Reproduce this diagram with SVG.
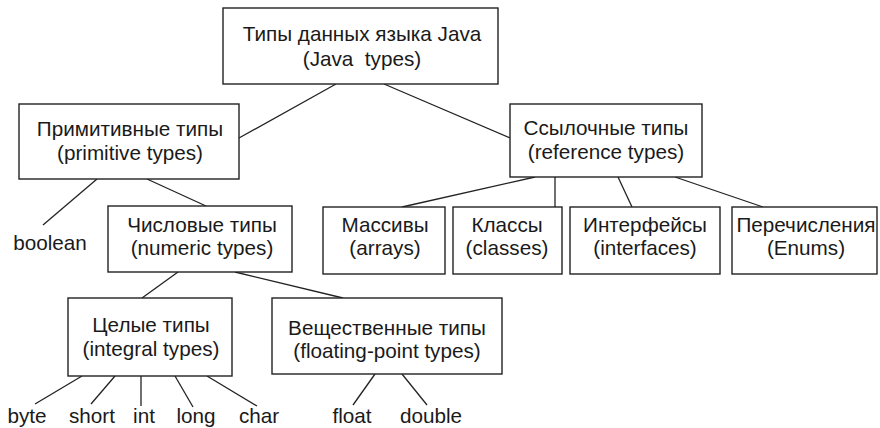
<svg xmlns="http://www.w3.org/2000/svg" width="880" height="428" viewBox="0 0 880 428">
<style>
.box{fill:#fff;stroke:#222;stroke-width:1.4}
.t{font-family:"Liberation Sans",Arial,sans-serif;font-size:20.7px;fill:#1a1a1a;text-anchor:middle;white-space:pre}
.c line{stroke:#222;stroke-width:1.3}
</style>
<rect width="880" height="428" fill="#fff"/>
<g class="c" id="connectors">
<line x1="336" y1="84" x2="239" y2="138"/>
<line x1="384" y1="84" x2="510" y2="138"/>
<line x1="97" y1="179" x2="43" y2="225"/>
<line x1="147" y1="179" x2="206" y2="206"/>
<line x1="178" y1="272" x2="142" y2="298"/>
<line x1="235" y1="272" x2="343" y2="298"/>
<line x1="82" y1="376" x2="35" y2="404"/>
<line x1="115" y1="376" x2="91" y2="404"/>
<line x1="141" y1="376" x2="141" y2="406"/>
<line x1="175" y1="376" x2="193" y2="407"/>
<line x1="207" y1="376" x2="257" y2="406"/>
<line x1="375" y1="374" x2="353" y2="405"/>
<line x1="402" y1="374" x2="427" y2="405"/>
<line x1="535" y1="177" x2="402" y2="207"/>
<line x1="555" y1="177" x2="555" y2="207"/>
<line x1="618" y1="177" x2="632" y2="207"/>
<line x1="675" y1="177" x2="763" y2="207"/>
</g>
<g id="java">
<rect class="box" x="223" y="8" width="275" height="76"/>
<text class="t" x="362" y="41">Типы данных языка Java</text>
<text class="t" x="362" y="66">(Java  types)</text>
</g>
<g id="primitive">
<rect class="box" x="19" y="104" width="220" height="75"/>
<text class="t" x="130" y="136">Примитивные типы</text>
<text class="t" x="130" y="160">(primitive types)</text>
</g>
<g id="reference">
<rect class="box" x="510" y="104" width="192" height="73"/>
<text class="t" x="606" y="135">Ссылочные типы</text>
<text class="t" x="606" y="159">(reference types)</text>
</g>
<g id="boolean">
<text class="t" x="50" y="250">boolean</text>
</g>
<g id="numeric">
<rect class="box" x="108" y="206" width="184" height="66"/>
<text class="t" x="202" y="232">Числовые типы</text>
<text class="t" x="202" y="255">(numeric types)</text>
</g>
<g id="arrays">
<rect class="box" x="323" y="207" width="122" height="67"/>
<text class="t" x="385" y="232">Массивы</text>
<text class="t" x="385" y="255">(arrays)</text>
</g>
<g id="classes">
<rect class="box" x="453" y="207" width="109" height="67"/>
<text class="t" x="507" y="232">Классы</text>
<text class="t" x="507" y="255">(classes)</text>
</g>
<g id="interfaces">
<rect class="box" x="570" y="207" width="150" height="67"/>
<text class="t" x="645" y="232">Интерфейсы</text>
<text class="t" x="645" y="255">(interfaces)</text>
</g>
<g id="enums">
<rect class="box" x="732" y="207" width="145" height="67"/>
<text class="t" x="806" y="232">Перечисления</text>
<text class="t" x="806" y="255">(Enums)</text>
</g>
<g id="integral">
<rect class="box" x="68" y="298" width="164" height="78"/>
<text class="t" x="151" y="332">Целые типы</text>
<text class="t" x="151" y="356">(integral types)</text>
</g>
<g id="floating">
<rect class="box" x="272" y="298" width="230" height="76"/>
<text class="t" x="387" y="335">Вещественные типы</text>
<text class="t" x="387" y="358">(floating-point types)</text>
</g>
<g id="byte"><text class="t" x="27" y="423">byte</text></g>
<g id="short"><text class="t" x="92" y="423">short</text></g>
<g id="int"><text class="t" x="144" y="423">int</text></g>
<g id="long"><text class="t" x="196" y="423">long</text></g>
<g id="char"><text class="t" x="259" y="423">char</text></g>
<g id="float"><text class="t" x="352" y="423">float</text></g>
<g id="double"><text class="t" x="431" y="423">double</text></g>
</svg>
